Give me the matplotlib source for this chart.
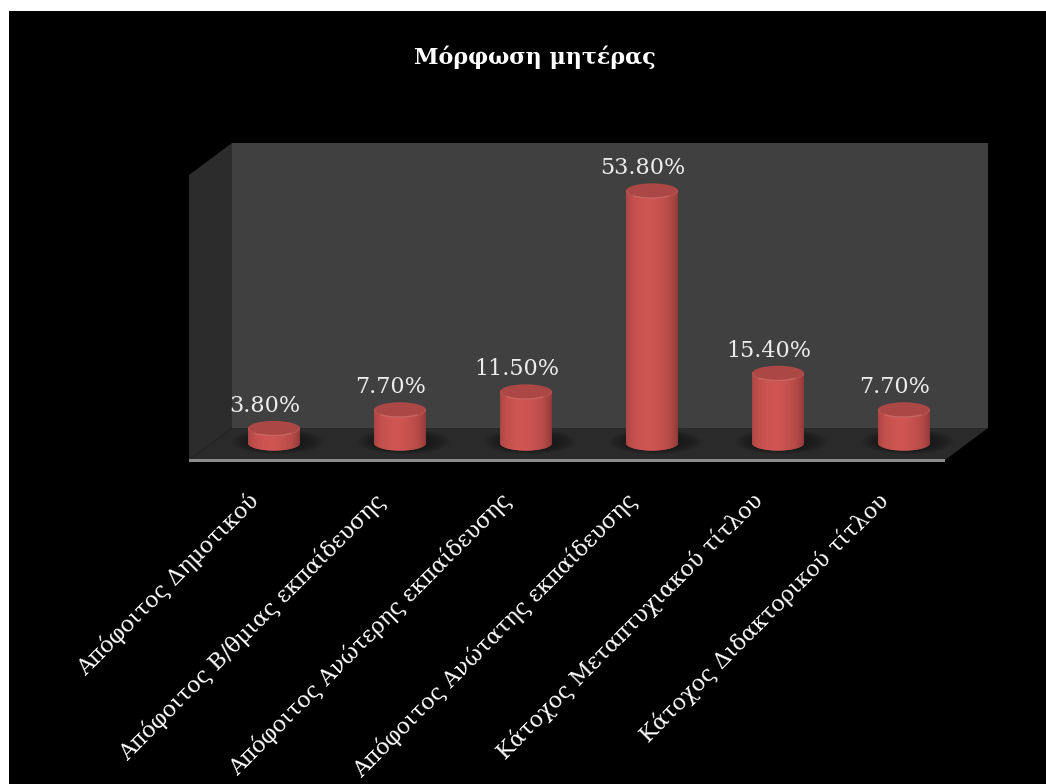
import numpy as np
import matplotlib
matplotlib.use("Agg")
import matplotlib.pyplot as plt
from matplotlib.patches import Rectangle, Polygon, Ellipse
from matplotlib.transforms import Affine2D

categories = ["Απόφοιτος Δημοτικού", "Απόφοιτος Β/θμιας εκπαίδευσης",
              "Απόφοιτος Ανώτερης εκπαίδευσης", "Απόφοιτος Ανώτατης εκπαίδευσης",
              "Κάτοχος Μεταπτυχιακού τίτλου", "Κάτοχος Διδακτορικού τίτλου"]
values = [3.8, 7.7, 11.5, 53.8, 15.4, 7.7]
title = "Μόρφωση μητέρας"

W, H = 1046, 784
FONT = "DejaVu Serif"
fig = plt.figure(figsize=(W/100, H/100), dpi=100, facecolor="white")
fig.patches.append(Rectangle((9/W, 0), (W-9)/W, (H-11)/H, transform=fig.transFigure,
                             fc="black", ec="none", zorder=-10))

# front plane of the plot box
L, R, T, B = 189, 945, 175, 460
ax = fig.add_axes([L/W, 1-B/H, (R-L)/W, (B-T)/H])
ax.patch.set_visible(False)
ax.set_xlim(-0.5, 5.5)
ax.set_ylim(0, 60)
for s in ax.spines.values():
    s.set_visible(False)

DX, DY = 43, 32          # depth of the box in pixels
a = ax.transAxes
ax.add_patch(Rectangle((0, 0), 1, 1, transform=a + Affine2D().translate(DX, DY),
                       fc="#404040", ec="none", zorder=1, clip_on=False))
wallw = DX/(R-L); wallh = DY/(B-T)
ax.add_patch(Polygon([(0, 0), (wallw, wallh), (wallw, 1+wallh), (0, 1)], transform=a,
                     fc="#2c2c2c", ec="none", zorder=1.1, clip_on=False))
ax.add_patch(Polygon([(0, 0), (wallw, wallh), (1+wallw, wallh), (1, 0)], transform=a,
                     fc="#2a2a2a", ec="none", zorder=1.2, clip_on=False))
ax.add_patch(Rectangle((0, -1.5/(B-T)), 1, 3/(B-T), transform=a, fc="#8c8c8c", ec="none",
                       zorder=1.3, clip_on=False))

# cylinders sit mid-depth
off = Affine2D().translate(22, 13.6)
tr = ax.transData + off
BW = 52/((R-L)/6)            # cylinder width in category units
EH = 15/((B-T)/60)           # ellipse height in value units
BASE = 0.7
grad = np.array([0, .06, .15, .3, .42, .55, .7, .85, .95, 1.0])
c0 = np.array([0x8c, 0x38, 0x36]) / 255
c1 = np.array([0xd0, 0x56, 0x53]) / 255
prof = np.array([.45, .65, .82, .95, 1, .95, .82, .6, .3, .05])
xs = np.linspace(0, 1, 128)
shade = np.interp(xs, grad, prof)
img = (c0[None, :] * (1-shade[:, None]) + c1[None, :] * shade[:, None])[None, :, :]

xpos = np.arange(len(values))
for x, v in zip(xpos, values):
    for k in np.linspace(1.75, 1.05, 10):
        ax.add_patch(Ellipse((x+0.03, BASE+0.3), BW*k, EH*k*0.95, transform=tr, fc="#161616",
                             ec="none", alpha=.10, zorder=2, clip_on=False))
    ax.bar(x, v-BASE, BW, bottom=BASE, color="#c04c49", transform=tr, zorder=3, clip_on=False)
    t = np.linspace(np.pi, 2*np.pi, 60)
    px = np.r_[x+BW/2*np.cos(t), x+BW/2, x-BW/2]
    py = np.r_[BASE+EH/2*np.sin(t), v, v]
    clip = Polygon(np.c_[px, py], transform=tr, fc="#c04c49", ec="none", zorder=3, clip_on=False)
    ax.add_patch(clip)
    im = ax.imshow(img, extent=(x-BW/2, x+BW/2, BASE-EH/2, v), aspect="auto", zorder=3.1,
                   transform=tr, interpolation="bilinear")
    im.set_clip_path(clip)
    ax.add_patch(Ellipse((x, v), BW, EH, transform=tr, fc="#ab4745", ec="none", zorder=3.2,
                         clip_on=False))
    tt = np.linspace(np.pi, 2*np.pi, 40)
    ax.plot(x+BW/2*0.98*np.cos(tt), v+EH/2*0.98*np.sin(tt), color="#bb5552", lw=1.0,
            transform=tr, zorder=3.3, clip_on=False, alpha=.7)
    tt = np.linspace(1.25*np.pi, 1.75*np.pi, 20)
    ax.plot(x-BW*0.02+BW/2*0.96*np.cos(tt), v+EH/2*0.96*np.sin(tt), color="#d06a66", lw=1.0,
            transform=tr, zorder=3.4, clip_on=False, alpha=.8)
    ax.annotate(f"{v:.2f}%", (x, v), xytext=(13/1.389, 36/1.389), textcoords="offset points",
                ha="center", va="center", color="#ececec", fontsize=16, family=FONT,
                zorder=5, annotation_clip=False)

ax.set_xlim(-0.5, 5.5)
ax.set_ylim(0, 60)
ax.set_yticks([])
ax.set_xticks(xpos)
ax.set_xticklabels(categories, rotation=45, ha="right", va="top", rotation_mode="anchor",
                   color="white", fontsize=16, family=FONT)
ax.tick_params(axis="x", length=0, pad=18)
for lab in ax.get_xticklabels():
    lab.set_transform(lab.get_transform() + Affine2D().translate(-5, -4))

fig.text(535/W, 1-57/H, title, ha="center", va="center", color="white", fontsize=16,
         fontweight="bold", family=FONT)

fig.savefig("out.png", dpi=100, facecolor=fig.get_facecolor())
